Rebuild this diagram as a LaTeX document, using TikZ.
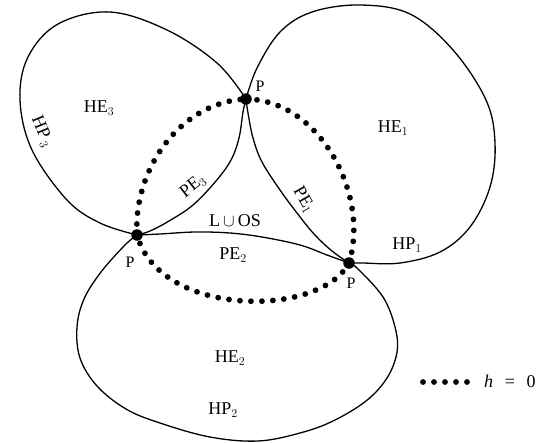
\documentclass[tikz,border=0pt]{standalone}
\usepackage{fontspec}
\setmainfont{Liberation Serif}
\begin{document}
\begin{tikzpicture}[x=1pt,y=-1pt,
  loopline/.style={line width=1.3pt, line join=round},
  zeroset/.style={line width=5.8pt, line cap=round, dash pattern=on 0pt off 11pt},
  pdot/.style={circle, fill=black, inner sep=0pt, minimum size=11.5pt},
  lab/.style={font=\fontsize{18}{20}\selectfont, inner sep=0pt},
  plab/.style={font=\fontsize{16}{18}\selectfont, inner sep=0pt}]
\useasboundingbox (0,0) rectangle (537,442);

% the three touching points
\coordinate (Pt) at (246,99);
\coordinate (Pl) at (137,235);
\coordinate (Pr) at (349,263);

% loop 3 (upper left)
\draw[loopline] plot[smooth, tension=0.6] coordinates {(Pl) (100,223) (67,200) (32,150) (20,100) (28,57) (58,24) (110,12) (167,30) (217,63) (Pt)};
\draw[loopline] plot[smooth, tension=0.6] coordinates {(Pt) (243,112) (239,138) (231,160) (216,181) (193,205) (169,221) (150,231) (Pl)};

% loop 1 (upper right)
\draw[loopline] plot[smooth, tension=0.6] coordinates {(Pt) (257,68) (280,32) (312,12) (360,5) (410,14) (453,50) (486,100) (495,143) (490,187) (470,227) (440,252) (400,263) (362,263) (Pr)};
\draw[loopline] plot[smooth, tension=0.6] coordinates {(Pt) (248,113) (253,138) (262,162) (280,190) (297,213) (314,234) (332,251) (Pr)};

% loop 2 (bottom)
\draw[loopline] plot[smooth, tension=0.6] coordinates {(Pl) (160,234) (195,232) (230,233) (262,237) (300,245) (327,255) (Pr)};
\draw[loopline] plot[smooth, tension=0.6] coordinates {(Pr) (358,269) (383,297) (395,327) (397,352) (387,378) (366,401) (333,421) (300,433) (258,441) (210,437) (160,423) (126,409) (97,386) (80,358) (77,327) (84,299) (101,272) (125,245) (Pl)};

% the set h = 0
\draw[zeroset] (Pt) .. controls (320,100) and (370,195) .. (Pr);
\draw[zeroset] (Pr) .. controls (320,318) and (160,318) .. (Pl);
\draw[zeroset] (Pl) .. controls (133,170) and (180,102) .. (Pt);

\node[pdot] (nPt) at (Pt) {};
\node[pdot] (nPl) at (Pl) {};
\node[pdot] (nPr) at (Pr) {};

% labels
\node[plab] (lPt) at (260,86) {P};
\node[plab] (lPl) at (130,262) {P};
\node[plab] (lPr) at (351,283) {P};

\node[lab] (he3) at (99,108) {HE$_3$};
\node[lab, rotate=-68] (hp3) at (42,132) {HP\,$_3$};
\node[lab, rotate=38] (pe3) at (193,186) {PE$_3$};
\node[lab] (los) at (235,221) {L\,$\cup$\,OS};
\node[lab] (pe2) at (233,255) {PE$_2$};
\node[lab, rotate=-60] (pe1) at (304,200) {PE$_1$};
\node[lab] (he1) at (393,128) {HE$_1$};
\node[lab] (hp1) at (407,245) {HP$_1$};
\node[lab] (he2) at (230,358) {HE$_2$};
\node[lab] (hp2) at (223,410) {HP$_2$};

% legend
\coordinate (k1) at (423,382);
\coordinate (k2) at (478,382);
\draw[zeroset] (k1) -- (k2);
\node[lab, anchor=west] (key) at (484,381) {\textit{h}\hspace{0.65em}=\hspace{0.65em}0};
\end{tikzpicture}
\end{document}
